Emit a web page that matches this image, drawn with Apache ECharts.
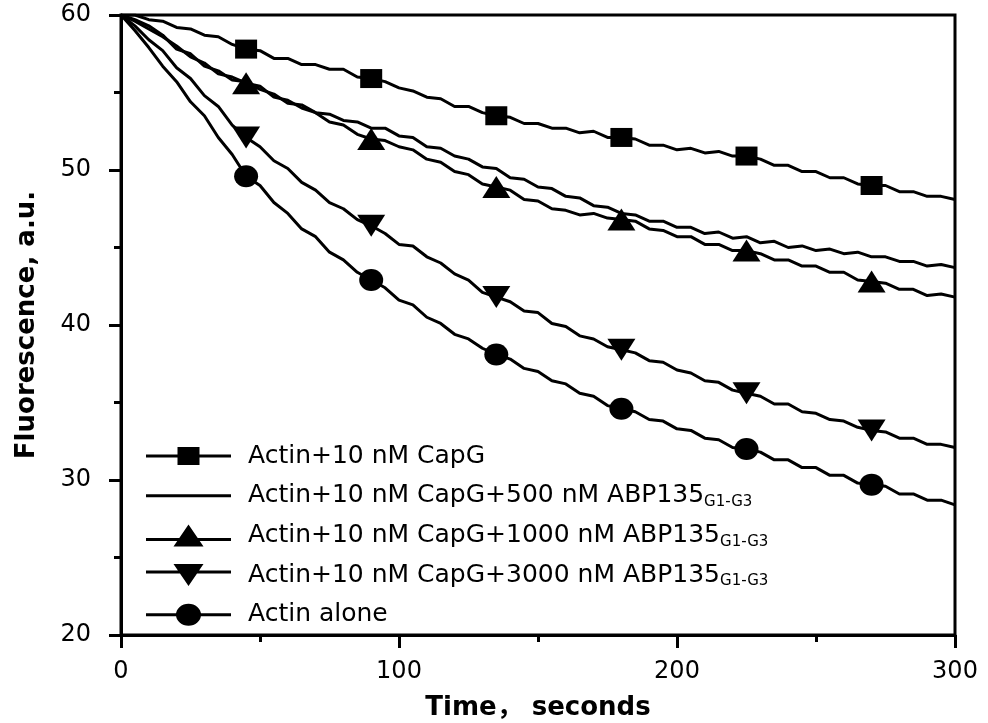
<!DOCTYPE html>
<html><head><meta charset="utf-8">
<script src="https://cdn.jsdelivr.net/npm/echarts@6/dist/echarts.min.js"></script>
<style>html,body{margin:0;padding:0;background:#fff}#c{width:988px;height:723px}</style>
</head><body><div id="c"></div>
<script>
// ---- data ----
const timeSec = [0,5,10,15,20,25,30,35,40,45,50,55,60,65,70,75,80,85,90,95,100,105,110,115,120,125,130,135,140,145,150,155,160,165,170,175,180,185,190,195,200,205,210,215,220,225,230,235,240,245,250,255,260,265,270,275,280,285,290,295,300];
const markerTimes = [45,90,135,180,225,270];

const capG = [60.0,60.0,59.7,59.6,59.2,59.1,58.7,58.6,58.1,57.8,57.7,57.2,57.2,56.8,56.8,56.5,56.5,56.0,55.9,55.7,55.3,55.1,54.7,54.6,54.1,54.1,53.7,53.5,53.4,53.0,53.0,52.7,52.7,52.4,52.5,52.1,52.1,52.0,51.6,51.6,51.3,51.4,51.1,51.2,50.9,50.9,50.7,50.3,50.3,49.9,49.9,49.5,49.5,49.1,49.0,49.0,48.6,48.6,48.3,48.3,48.1];
const capG500 = [60.0,59.7,59.3,58.7,57.8,57.5,56.7,56.4,55.8,55.7,55.2,54.9,54.3,54.2,53.7,53.6,53.2,53.1,52.7,52.7,52.2,52.1,51.5,51.4,50.9,50.7,50.2,50.1,49.5,49.4,48.9,48.8,48.3,48.2,47.7,47.6,47.2,47.1,46.7,46.7,46.3,46.3,45.9,46.0,45.6,45.7,45.3,45.4,45.0,45.1,44.8,44.9,44.6,44.7,44.4,44.4,44.1,44.1,43.8,43.9,43.7];
const capG1000 = [60.0,59.6,59.1,58.6,58.0,57.3,56.9,56.2,56.0,55.6,55.4,54.7,54.5,54.0,53.7,53.1,52.9,52.3,52.0,51.9,51.5,51.3,50.7,50.5,49.9,49.7,49.1,48.9,48.7,48.1,48.0,47.5,47.4,47.1,47.2,46.9,46.8,46.7,46.2,46.1,45.7,45.7,45.2,45.2,44.8,44.8,44.6,44.2,44.2,43.8,43.8,43.4,43.4,42.9,42.8,42.7,42.3,42.3,41.9,42.0,41.8];
const capG3000 = [60.0,59.3,58.4,57.7,56.6,55.9,54.8,54.1,52.9,52.1,51.5,50.6,50.1,49.2,48.7,47.9,47.5,46.8,46.4,45.9,45.2,45.1,44.4,44.0,43.3,42.9,42.1,41.8,41.5,40.9,40.8,40.1,39.9,39.3,39.1,38.6,38.4,38.2,37.7,37.6,37.1,36.9,36.4,36.3,35.8,35.6,35.4,34.9,34.9,34.4,34.3,33.9,33.8,33.4,33.2,33.1,32.7,32.7,32.3,32.3,32.1];
const actinAlone = [60.0,59.0,57.9,56.7,55.7,54.4,53.5,52.1,51.0,49.6,49.0,47.9,47.2,46.2,45.7,44.7,44.2,43.4,42.9,42.4,41.6,41.3,40.5,40.1,39.4,39.1,38.5,38.1,37.8,37.2,37.0,36.4,36.2,35.6,35.4,34.8,34.6,34.4,33.9,33.8,33.3,33.2,32.7,32.6,32.1,32.0,31.8,31.3,31.3,30.8,30.8,30.3,30.3,29.8,29.7,29.6,29.1,29.1,28.7,28.7,28.4];

const legendMain = ['Actin+10 nM CapG','Actin+10 nM CapG+500 nM ABP135','Actin+10 nM CapG+1000 nM ABP135','Actin+10 nM CapG+3000 nM ABP135','Actin alone'];
const legendSub = ['','G1-G3','G1-G3','G1-G3',''];
const xTickValues = [0,100,200,300];
const yTickValues = [20,30,40,50,60];
const xTitle = 'Time\uFF0C seconds';
const yTitle = 'Fluorescence, a.u.';

// ---- presentation ----
const seriesValues = [capG, capG500, capG1000, capG3000, actinAlone];
const markerSymbols = ['rect', 'none', 'triangle', 'triangle', 'circle'];
const markerSizes = [[22,19], 0, [28,22], [28,22], [24,22]];
const markerRotate = [0, 0, 0, 180, 0];
const legendIcons = [
  'path://M0,7.5L85,7.5L85,10.5L0,10.5Z M31.5,0L53.5,0L53.5,18L31.5,18Z',
  'path://M0,0L85,0L85,3L0,3Z',
  'path://M0,13.5L85,13.5L85,16.5L0,16.5Z M42.5,0L57.5,22L27.5,22Z',
  'path://M0,6.5L85,6.5L85,9.5L0,9.5Z M27.5,0L57.5,0L42.5,22Z',
  'path://M0,9.5L31,9.5L31,12.5L0,12.5Z M54,9.5L85,9.5L85,12.5L54,12.5Z M30,11A12.5,11 0 1,1 55,11A12.5,11 0 1,1 30,11Z'
];
const FONT = '"DejaVu Sans", "Noto Sans CJK SC", sans-serif';
const names = legendMain.map((m, i) => m + legendSub[i]);

const series = seriesValues.map((vals, si) => ({
  type: 'line',
  name: names[si],
  symbol: markerSymbols[si],
  symbolSize: markerSizes[si],
  symbolRotate: markerRotate[si],
  showSymbol: markerSymbols[si] !== 'none',
  color: '#000',
  lineStyle: { color: '#000', width: 3 },
  itemStyle: { color: '#000', borderWidth: 0 },
  emphasis: { disabled: true },
  z: 3,
  data: timeSec.map((t, i) => markerTimes.indexOf(t) >= 0
    ? { value: [t, vals[i]] }
    : { value: [t, vals[i]], symbol: 'none' })
}));

const chart = echarts.init(document.getElementById('c'), null, { renderer: 'canvas' });
chart.setOption({
  animation: false,
  backgroundColor: '#fff',
  grid: { left: 121, right: 33, top: 15, bottom: 88, containLabel: false, outerBoundsMode: 'none', show: true, borderColor: '#000', borderWidth: 3, backgroundColor: 'transparent' },
  xAxis: {
    type: 'value',
    min: xTickValues[0], max: xTickValues[xTickValues.length - 1], interval: xTickValues[1] - xTickValues[0],
    name: xTitle, nameLocation: 'middle', nameGap: 60,
    nameTextStyle: { fontFamily: FONT, fontSize: 26, fontWeight: 'bold', color: '#000' },
    axisLine: { show: true, onZero: false, lineStyle: { color: '#000', width: 3 } },
    axisTick: { show: true, inside: false, length: 13, lineStyle: { color: '#000', width: 3 } },
    minorTick: { show: true, splitNumber: 2, length: 7, lineStyle: { color: '#000', width: 3 } },
    axisLabel: { fontFamily: FONT, fontSize: 24, color: '#000', margin: 25 },
    splitLine: { show: false }
  },
  yAxis: {
    type: 'value',
    min: yTickValues[0], max: yTickValues[yTickValues.length - 1], interval: yTickValues[1] - yTickValues[0],
    name: yTitle, nameLocation: 'middle', nameGap: 81, nameRotate: 90,
    nameTextStyle: { fontFamily: FONT, fontSize: 26, fontWeight: 'bold', color: '#000' },
    axisLine: { show: true, onZero: false, lineStyle: { color: '#000', width: 3 } },
    axisTick: { show: true, inside: false, length: 12, lineStyle: { color: '#000', width: 3 } },
    minorTick: { show: true, splitNumber: 2, length: 7, lineStyle: { color: '#000', width: 3 } },
    axisLabel: { fontFamily: FONT, fontSize: 24, color: '#000', margin: 30 },
    splitLine: { show: false }
  },
  legend: {
    orient: 'vertical',
    left: 141, top: 437,
    itemWidth: 85, itemHeight: 22, itemGap: 11.7,
    selectedMode: false,
    symbolKeepAspect: true,
    data: names.map((n, i) => ({ name: n, icon: legendIcons[i], itemStyle: { color: '#000', borderWidth: 0 } })),
    formatter: function (name) {
      const i = names.indexOf(name);
      return legendMain[i] + (legendSub[i] ? '{sub|' + legendSub[i] + '}' : '');
    },
    textStyle: {
      fontFamily: FONT, fontSize: 25, color: '#000', lineHeight: 28, padding: [0, 0, 0, 12],
      rich: { sub: { fontFamily: FONT, fontSize: 15, color: '#000', lineHeight: 28, verticalAlign: 'bottom' } }
    }
  },
  series: series
});
</script></body></html>
